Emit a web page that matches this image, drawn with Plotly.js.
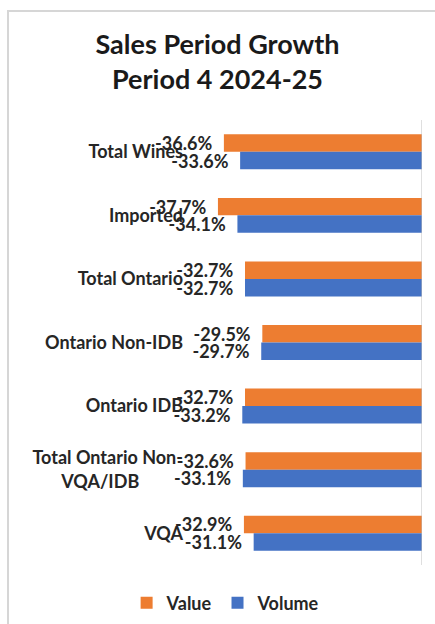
<!DOCTYPE html>
<html>
<head>
<meta charset="utf-8">
<script src="https://cdn.plot.ly/plotly-3.0.1.min.js"></script>
<style>
html,body{margin:0;padding:0;background:#fff;}
#frame{position:absolute;left:7px;top:10px;width:600px;height:800px;border-left:2px solid #d6d6d6;border-top:2px solid #d6d6d6;}
#chart{position:absolute;left:0;top:0;width:435px;height:624px;}
</style>
</head>
<body>
<div id="frame"></div>
<div id="chart"></div>
<script>
const categories = ["Total Wines", "Imported", "Total Ontario", "Ontario Non-IDB", "Ontario IDB", "Total Ontario Non-VQA/IDB", "VQA"];
const tickLabels = ["Total Wines", "Imported", "Total Ontario", "Ontario Non-IDB", "Ontario IDB", "Total Ontario Non-<br>VQA/IDB\u00a0\u00a0\u00a0\u00a0\u00a0\u00a0\u00a0\u00a0\u00a0\u00a0", "VQA"];
const valueGrowth = [-36.6, -37.7, -32.7, -29.5, -32.7, -32.6, -32.9];
const volumeGrowth = [-33.6, -34.1, -32.7, -29.7, -33.2, -33.1, -31.1];
const seriesNames = ["Value", "Volume"];

const FONT = "Lato, 'Open Sans', sans-serif";
const labelFont = {family: FONT, size: 18, color: "#262626", weight: 700};

function mk(name, vals, color) {
  return {
    type: "bar", orientation: "h", name: name,
    y: categories, x: vals,
    marker: {color: color},
    texttemplate: "%{x:.1f}%\u00a0\u00a0",
    textposition: "outside",
    constraintext: "none",
    cliponaxis: false,
    textfont: labelFont,
    hoverinfo: "skip"
  };
}

const data = [
  mk(seriesNames[0], valueGrowth, "#ED7D31"),
  mk(seriesNames[1], volumeGrowth, "#4472C4")
];

const layout = {
  width: 435, height: 624,
  paper_bgcolor: "rgba(0,0,0,0)", plot_bgcolor: "rgba(0,0,0,0)",
  margin: {l: 186, r: 13, t: 120, b: 59, autoexpand: false},
  title: {
    text: "Sales Period Growth<br>Period 4 2024-25",
    font: {family: FONT, size: 27, color: "#1a1a1a", weight: 700},
    x: 0.5, xref: "container", xanchor: "center",
    y: 0.913, yref: "container", yanchor: "middle"
  },
  barmode: "group", bargap: 0.45, bargroupgap: 0,
  xaxis: {range: [-43.6, 0], showticklabels: false, showgrid: false, zeroline: false, showline: false, fixedrange: true},
  yaxis: {autorange: "reversed", type: "category", showgrid: false, zeroline: false, showline: false, ticks: "",
          tickmode: "array", tickvals: categories, ticktext: tickLabels,
          tickfont: labelFont, ticklabelstandoff: 2, fixedrange: true, automargin: false},
  shapes: [{type: "line", xref: "x", yref: "paper", x0: 0, x1: 0, y0: 0, y1: 1, line: {color: "#bfbfbf", width: 1}}],
  showlegend: true,
  legend: {orientation: "h", x: 0.17, xanchor: "center", y: -0.0854, yanchor: "middle",
           font: labelFont, itemwidth: 30, traceorder: "normal"}
};

Plotly.newPlot("chart", data, layout, {displayModeBar: false, staticPlot: true});
</script>
</body>
</html>
